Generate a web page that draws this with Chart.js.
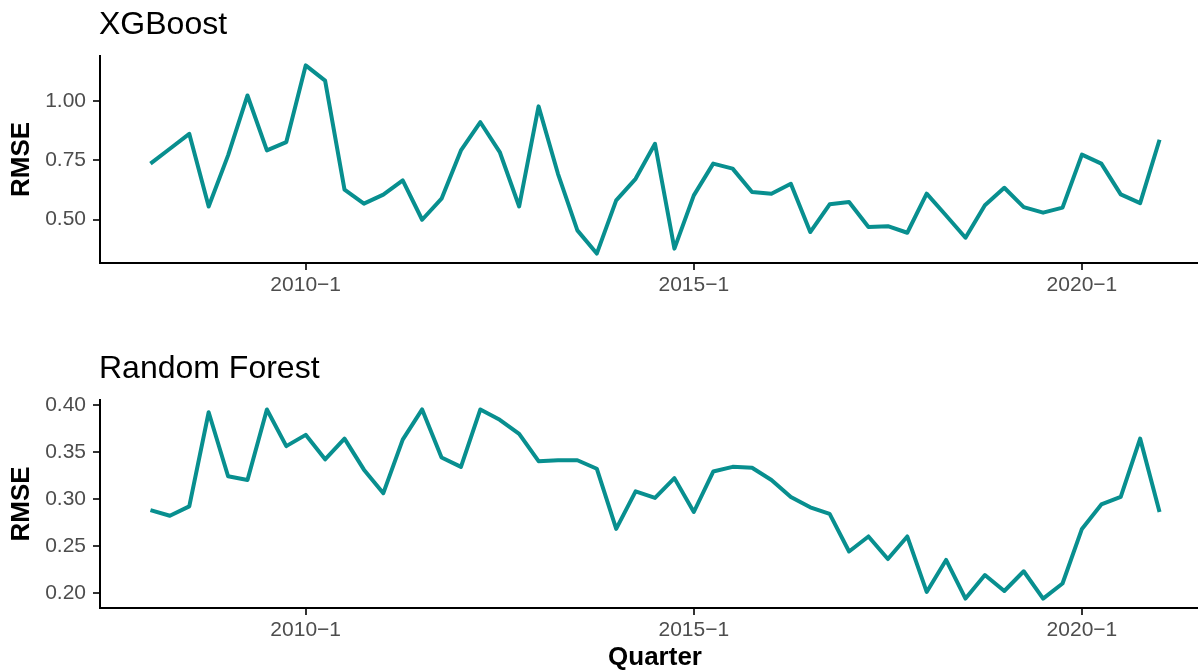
<!DOCTYPE html>
<html>
<head>
<meta charset="utf-8">
<script src="https://cdn.jsdelivr.net/npm/chart.js@4"></script>
<style>
html,body{margin:0;padding:0;background:#fff;overflow:hidden;width:1198px;height:671px;position:relative;}
.wrap{position:absolute;left:0;}
</style>
</head>
<body>
<div class="wrap" style="top:0px"><canvas id="c1" width="1212" height="335"></canvas></div>
<div class="wrap" style="top:335px"><canvas id="c2" width="1212" height="338"></canvas></div>
<script>
const quarters = ["2008-1","2008-2","2008-3","2008-4","2009-1","2009-2","2009-3","2009-4",
  "2010-1","2010-2","2010-3","2010-4","2011-1","2011-2","2011-3","2011-4",
  "2012-1","2012-2","2012-3","2012-4","2013-1","2013-2","2013-3","2013-4",
  "2014-1","2014-2","2014-3","2014-4","2015-1","2015-2","2015-3","2015-4",
  "2016-1","2016-2","2016-3","2016-4","2017-1","2017-2","2017-3","2017-4",
  "2018-1","2018-2","2018-3","2018-4","2019-1","2019-2","2019-3","2019-4",
  "2020-1","2020-2","2020-3","2020-4","2021-1"];

const xgbRMSE = [0.736,0.799,0.862,0.555,0.771,1.024,0.792,0.827,1.151,1.087,
  0.626,0.567,0.605,0.665,0.499,0.588,0.792,0.911,0.785,0.555,
  0.978,0.693,0.454,0.356,0.581,0.672,0.820,0.377,0.602,0.736,
  0.715,0.616,0.609,0.651,0.447,0.564,0.574,0.468,0.472,0.444,
  0.609,0.517,0.423,0.560,0.634,0.552,0.529,0.550,0.774,0.736,
  0.606,0.569,0.837];

const rfRMSE = [0.288,0.282,0.292,0.392,0.324,0.320,0.395,0.356,0.368,0.342,
  0.364,0.331,0.306,0.363,0.395,0.344,0.334,0.395,0.384,0.369,
  0.340,0.341,0.341,0.332,0.268,0.308,0.301,0.322,0.286,0.329,
  0.334,0.333,0.320,0.302,0.291,0.284,0.244,0.260,0.236,0.260,
  0.201,0.235,0.194,0.219,0.202,0.223,0.194,0.210,0.268,0.294,
  0.302,0.364,0.286];

const xTickQuarters = ["2010-1","2015-1","2020-1"];
const xgbYTicks = [0.50,0.75,1.00];
const rfYTicks = [0.20,0.25,0.30,0.35,0.40];

const FAMILY = '"Liberation Sans", Arial, Helvetica, sans-serif';
const LINE_COLOR = '#088F8F';

const panelTitle = {
  id: 'panelTitle',
  afterDraw(chart, args, opts) {
    const ctx = chart.ctx;
    ctx.save();
    ctx.font = opts.font;
    ctx.fillStyle = '#000';
    ctx.textAlign = 'left';
    ctx.textBaseline = 'alphabetic';
    ctx.fillText(opts.text, chart.chartArea.left - 1, chart.chartArea.top - opts.gap);
    ctx.restore();
  }
};

function makeChart(id, title, values, yTicks, showXTitle, padTop, xHeight) {
  const n = values.length;
  const xpad = (n - 1) * 0.05;
  const lo = Math.min(...values), hi = Math.max(...values);
  const ypad = (hi - lo) * 0.05;
  const xTickIdx = xTickQuarters.map(q => quarters.indexOf(q));
  const axisGrid = {display: true, drawOnChartArea: false, drawTicks: true, tickLength: 7, color: '#333333', lineWidth: 2};
  const axisBorder = {display: true, color: '#000000', width: 2};
  return new Chart(document.getElementById(id), {
    type: 'line',
    data: {
      datasets: [{
        data: values.map((v, i) => ({x: i, y: v})),
        borderColor: LINE_COLOR,
        borderWidth: 4,
        pointRadius: 0,
        fill: false,
        tension: 0,
        borderJoinStyle: 'round',
        borderCapStyle: 'butt'
      }]
    },
    plugins: [panelTitle],
    options: {
      responsive: false,
      animation: false,
      events: [],
      layout: {padding: {top: padTop, right: 2, left: 0, bottom: 0}},
      plugins: {
        legend: {display: false},
        tooltip: {enabled: false},
        panelTitle: {text: title, font: '32px ' + FAMILY, gap: 22}
      },
      scales: {
        x: {
          type: 'linear',
          min: -xpad,
          max: (n - 1) + xpad,
          afterBuildTicks(s) { s.ticks = xTickIdx.map(v => ({value: v})); },
          afterFit(s) { s.height = xHeight; },
          ticks: {
            callback: v => quarters[v].replace('-', '\u2212'),
            font: {size: 21, family: FAMILY},
            color: '#4D4D4D',
            padding: 3,
            maxRotation: 0,
            autoSkip: false
          },
          grid: axisGrid,
          border: axisBorder,
          title: {
            display: showXTitle,
            text: 'Quarter',
            font: {size: 26, weight: 'bold', family: FAMILY},
            color: '#000',
            padding: {top: 0, bottom: 0}
          }
        },
        y: {
          type: 'linear',
          min: lo - ypad,
          max: hi + ypad,
          afterBuildTicks(s) { s.ticks = yTicks.map(v => ({value: v})); },
          afterFit(s) { s.width = 100; },
          ticks: {
            callback: v => Number(v).toFixed(2),
            font: {size: 21, family: FAMILY},
            color: '#4D4D4D',
            padding: 7
          },
          grid: axisGrid,
          border: axisBorder,
          title: {
            display: true,
            text: 'RMSE',
            font: {size: 26, weight: 'bold', family: FAMILY},
            color: '#000',
            padding: {top: 6, bottom: 0}
          }
        }
      }
    }
  });
}

makeChart('c1', 'XGBoost', xgbRMSE, xgbYTicks, false, 56, 72);
makeChart('c2', 'Random Forest', rfRMSE, rfYTicks, true, 65, 65);
</script>
</body>
</html>
